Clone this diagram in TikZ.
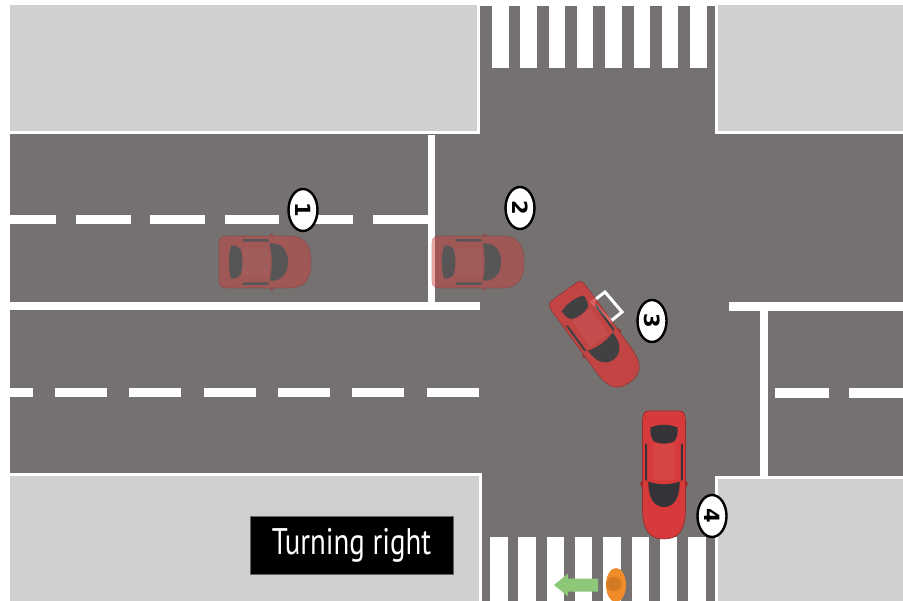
\documentclass[tikz,border=0pt]{standalone}
\usepackage{fontspec}
\usetikzlibrary{shapes.geometric}
\newfontfamily\labelfont[FakeStretch=0.78]{PT Sans}
\newfontfamily\markfont{DejaVu Sans}
\definecolor{asphalt}{RGB}{117,113,112}
\definecolor{pavement}{RGB}{209,207,208}
\definecolor{carred}{RGB}{214,58,58}
\definecolor{glass}{RGB}{52,52,56}
\definecolor{walker}{RGB}{240,140,40}
\definecolor{walkgreen}{RGB}{140,200,120}

\tikzset{
  curb/.style={fill=pavement, draw=white, line width=3},
  paint/.style={fill=white},
  numbermark/.style={ellipse, draw=black, fill=white, line width=2.4,
    minimum width=42, minimum height=29, inner sep=0, rotate=-90,
    font=\markfont\bfseries\fontsize{21}{21}\selectfont},
  turnbox/.style={fill=black, draw=black!60, line width=.8, text=white,
    minimum width=203, minimum height=58,
    font=\labelfont\fontsize{37}{37}\selectfont},
  car/.pic={
    % body
    \filldraw[fill=carred, draw=carred!70!black, line width=.6]
      (-50,-18) .. controls (-50,-24) and (-47,-25) .. (-40,-25) -- (26,-25)
      .. controls (44,-25) and (50,-16) .. (50,0)
      .. controls (50,16) and (44,25) .. (26,25) -- (-40,25)
      .. controls (-47,25) and (-50,24) .. (-50,18) -- cycle;
    % mirrors
    \fill[carred!75!black] (4,-25) -- (7,-28) -- (10,-25) -- cycle;
    \fill[carred!75!black] (4,25) -- (7,28) -- (10,25) -- cycle;
    \fill[white, opacity=.06] (-24,-13) rectangle (4,13);
    % windscreen and rear window
    \fill[glass] (5,-18) .. controls (18,-19) and (25,-11) .. (25,0)
      .. controls (25,11) and (18,19) .. (5,18)
      .. controls (8,7) and (8,-7) .. (5,-18) -- cycle;
    \fill[glass] (-37,-16) .. controls (-31,-16) and (-27,-14) .. (-26,-11)
      .. controls (-24,-4) and (-24,4) .. (-26,11)
      .. controls (-27,14) and (-31,16) .. (-37,16)
      .. controls (-40,6) and (-40,-6) .. (-37,-16) -- cycle;
    % side windows
    \fill[glass] (-25,-22) -- (3,-22) -- (5,-19.5) -- (-23,-19.5) -- cycle;
    \fill[glass] (-25,22) -- (3,22) -- (5,19.5) -- (-23,19.5) -- cycle;
  }
}

\begin{document}
\begin{tikzpicture}[x=1pt, y=-1pt]
  \useasboundingbox[fill=white] (0,0) rectangle (903,601);

  \begin{scope}
    \clip (10,6) rectangle (903,601);
    \fill[asphalt] (10,6) rectangle (903,601);
    % corners
    \filldraw[curb] (0,0) rectangle (478,133);
    \filldraw[curb] (716,0) rectangle (910,133);
    \filldraw[curb] (0,475) rectangle (480,610);
    \filldraw[curb] (716,478) rectangle (910,610);

    % zebra crossings
    \foreach \i in {0,...,7}
      \fill[paint] ({492+28.3*\i},6) rectangle ++(16.5,62);
    \foreach \i in {0,...,7}
      \fill[paint] ({490+28.3*\i},537) rectangle ++(17.5,70);

    % lane markings west
    \foreach \i in {0,...,5}
      \fill[paint] ({1.7+74.3*\i},215) rectangle ++(54.5,9);
    \foreach \i in {0,...,6}
      \fill[paint] ({-19.3+74.3*\i},388) rectangle ++(52,9);
    \fill[paint] (428,135) rectangle (435,302);
    \fill[paint] (10,302) rectangle (480,310);

    % lane markings east
    \foreach \x in {775,849}
      \fill[paint] (\x,388) rectangle ++(54,10);
    \fill[paint] (729,302) rectangle (910,311);
    \fill[paint] (760,311) rectangle (768,478);
  \end{scope}

  % earlier positions
  \begin{scope}[transparency group, opacity=.45]
    \pic[xscale=.92, yscale=1.04] at (265,262) {car};
    \pic[xscale=.92, yscale=1.04] at (478,262) {car};
  \end{scope}

  \draw[white, line width=3] (592,302) -- (605,292) -- (622,312) -- (611,321) -- cycle;
  \begin{scope}[transparency group, opacity=.8]
    \pic[rotate=-54, xscale=1.12, yscale=.85] at (597,337) {car};
  \end{scope}
  \pic[rotate=-90, xscale=1.28, yscale=.86] at (664,475) {car};

  % pedestrian
  \fill[walkgreen] (598,578.5) -- (568,578.5) -- (568,573.5) -- (554,585)
    -- (568,596.5) -- (568,591.5) -- (598,591.5) -- cycle;
  \fill[walker] (616,585) ellipse [x radius=10, y radius=17];
  \fill[walker!88!black] (614,584) circle (7.5);

  \node[numbermark] (mark1) at (303,210) {1};
  \node[numbermark] (mark2) at (520,208) {2};
  \node[numbermark] (mark3) at (652,321) {3};
  \node[numbermark] (mark4) at (712,516) {4};

  \node[turnbox] (turnlabel) at (351.5,545) {Turning right};
\end{tikzpicture}
\end{document}
